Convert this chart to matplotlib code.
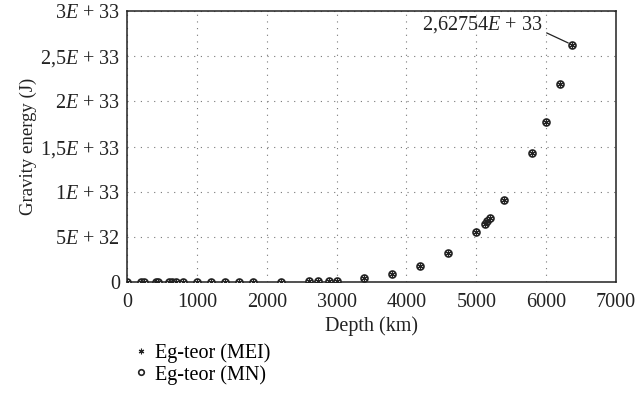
import numpy as np
import matplotlib
matplotlib.use("Agg")
import matplotlib.pyplot as plt

plt.rcParams['font.family'] = ['Liberation Serif', 'DejaVu Serif']
plt.rcParams['mathtext.fontset'] = 'custom'
plt.rcParams['mathtext.rm'] = 'Liberation Serif'
plt.rcParams['mathtext.it'] = 'Liberation Serif:italic'

# depth (km) and gravity energy (J)
depth = [0, 200, 240, 410, 450, 600, 650, 700, 800, 1000, 1200, 1400, 1600,
         1800, 2200, 2600, 2740, 2891, 3000, 3400, 3800, 4200, 4600, 5000,
         5120, 5150, 5200, 5400, 5800, 6000, 6200, 6371]
eg_mei = [0, 1e28, 1.3e28, 4e28, 5e28, 1e29, 1.2e29, 1.4e29, 1.9e29, 3.3e29,
          5.3e29, 8e29, 1.2e30, 1.7e30, 3e30, 5e30, 8e30, 1.2e31, 1.5e31,
          4.4e31, 9.2e31, 1.77e32, 3.2e32, 5.5e32, 6.4e32, 6.7e32, 7.05e32,
          9.04e32, 1.427e33, 1.773e33, 2.198e33, 2.62754e33]
eg_mn = list(eg_mei)

yticks = [0, 5e32, 1e33, 1.5e33, 2e33, 2.5e33, 3e33]
ylabels = ['0', r'5$E$ + 32', r'1$E$ + 33', r'1,5$E$ + 33', r'2$E$ + 33',
           r'2,5$E$ + 33', r'3$E$ + 33']
xticks = [0, 1000, 2000, 3000, 4000, 5000, 6000, 7000]

fs = 14.5
ink = '#222222'

fig = plt.figure(figsize=(6.35, 4.11), dpi=100)
ax = fig.add_axes([0.2, 0.314, 0.77, 0.659])

ax.plot(depth, eg_mn, linestyle='none', marker='o', markersize=5,
        markerfacecolor='white', markeredgecolor=ink, markeredgewidth=1.2,
        label='Eg-teor (MN)', zorder=3)
ax.plot(depth, eg_mei, linestyle='none', marker=(6, 2, 0), markersize=5,
        color=ink, markeredgewidth=0.8, label='Eg-teor (MEI)', zorder=4)

ax.set_xlim(0, 7000)
ax.set_ylim(0, 3e33)
ax.set_xticks(xticks)
ax.set_xticklabels([str(t) for t in xticks])
ax.set_yticks(yticks)
ax.set_yticklabels(ylabels)
ax.tick_params(length=0, labelsize=fs, colors=ink)
ax.tick_params(axis='x', pad=8)
ax.tick_params(axis='y', pad=5)
ax.grid(True, linestyle=(0, (1, 5)), color='#777777', linewidth=0.8)
for s in ax.spines.values():
    s.set_linewidth(1.1)
    s.set_color(ink)

ax.set_xlabel('Depth (km)', fontsize=fs, color=ink, labelpad=3)
ax.set_ylabel('Gravity energy (J)', fontsize=13.5, color=ink, labelpad=2)

ax.annotate(r'2,62754$E$ + 33', xy=(depth[-1], eg_mei[-1]),
            xytext=(5950, 2.85e33), ha='right', va='center', fontsize=fs,
            color=ink,
            arrowprops=dict(arrowstyle='-', color=ink, lw=0.9,
                            shrinkA=1, shrinkB=3,
                            connectionstyle='angle,angleA=0,angleB=-25,rad=0'))

h, l = ax.get_legend_handles_labels()
fig.legend(h[::-1], l[::-1], loc='upper left', bbox_to_anchor=(0.2, 0.185),
           frameon=False, fontsize=fs, handlelength=0.6, handletextpad=0.4,
           labelspacing=0.1, borderaxespad=0, markerscale=0.8)

fig.savefig('out.png', dpi=100)
